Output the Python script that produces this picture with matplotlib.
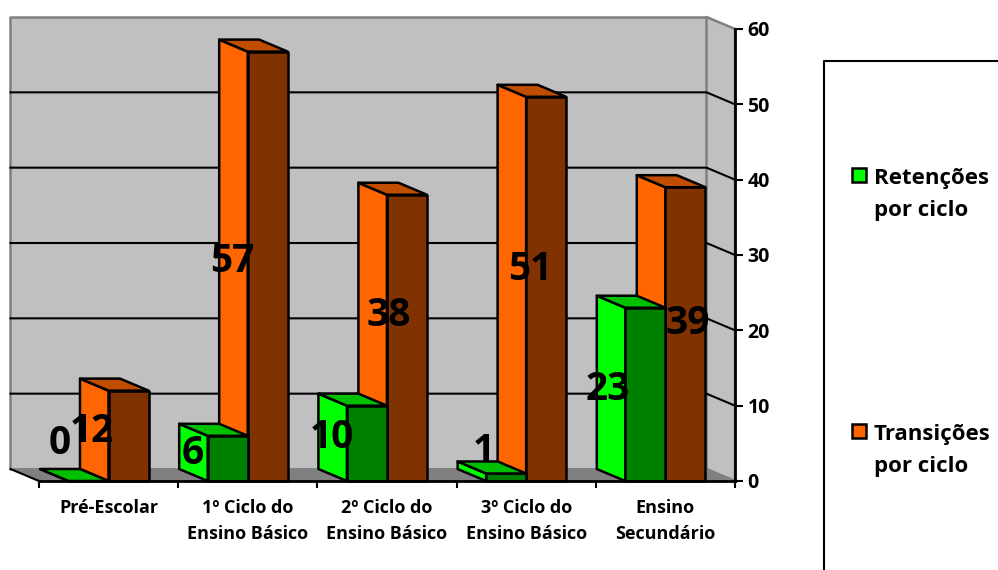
import matplotlib
matplotlib.use("Agg")
import matplotlib.pyplot as plt
from matplotlib.patches import Polygon, Rectangle
from matplotlib.lines import Line2D

categories = ["Pré-Escolar", "1º Ciclo do\nEnsino Básico", "2º Ciclo do\nEnsino Básico",
              "3º Ciclo do\nEnsino Básico", "Ensino\nSecundário"]
retencoes = [0, 6, 10, 1, 23]
transicoes = [12, 57, 38, 51, 39]
y_ticks = [0, 10, 20, 30, 40, 50, 60]
legend_names = ["Retenções\npor ciclo", "Transições\npor ciclo"]

W, H = 998, 570
LEFT, RIGHT, BOTTOM, TOP = 39, 735, 481, 29   # front plane in pixels

# colours: side, front, top
GREEN = ("#00FF00", "#008000", "#00C000")
ORANGE = ("#FF6600", "#803300", "#C04D00")

plt.rcParams["font.family"] = ["Open Sans", "DejaVu Sans"]
plt.rcParams["font.weight"] = "bold"

fig = plt.figure(figsize=(W / 100, H / 100), dpi=100)
ax = fig.add_axes([LEFT / W, 1 - BOTTOM / H, (RIGHT - LEFT) / W, (BOTTOM - TOP) / H])
ax.set_xlim(0, len(categories))
ax.set_ylim(0, 60)
ax.patch.set_visible(False)

# depth of the fake 3d view, in data units
px_x = len(categories) / (RIGHT - LEFT)
px_y = 60 / (BOTTOM - TOP)
dx = 28.5 * px_x
dy = 12 * px_y
bar_w = 40 * px_x
pad = 29.5 * px_x


def poly(pts, fc, ec="black", lw=1.8, z=2):
    ax.add_patch(Polygon(pts, closed=True, facecolor=fc, edgecolor=ec, linewidth=lw,
                         joinstyle="round", clip_on=False, zorder=z))


def bar3d(x0, val, colors, z):
    x1 = x0 + bar_w
    poly([(x0 - dx, dy), (x0, 0), (x0, val), (x0 - dx, val + dy)], colors[0], z=z)
    poly([(x0, 0), (x1, 0), (x1, val), (x0, val)], colors[1], z=z)
    poly([(x0, val), (x1, val), (x1 - dx, val + dy), (x0 - dx, val + dy)], colors[2], z=z)


n = len(categories)
# walls and floor
poly([(-dx, dy), (n - dx, dy), (n - dx, 60 + dy), (-dx, 60 + dy)], "#C0C0C0", ec="#808080", lw=1.8, z=1)
poly([(n - dx, dy), (n, 0), (n, 60), (n - dx, 60 + dy)], "#C0C0C0", ec="#808080", lw=1.8, z=1)
poly([(-dx, dy), (n - dx, dy), (n, 0), (0, 0)], "#808080", ec="#808080", lw=1, z=1.2)
ax.plot([-dx, 0], [dy, 0], color="black", lw=1.5, clip_on=False, zorder=1.3)

# gridlines run along the back wall and down the side wall
for t in y_ticks[1:-1]:
    ax.plot([-dx, n - dx, n], [t + dy, t + dy, t], color="black", lw=1.5,
            clip_on=False, zorder=1.5, solid_joinstyle="miter")

for i in range(n):
    start = i + pad
    bar3d(start + bar_w, transicoes[i], ORANGE, 3)
    bar3d(start, retencoes[i], GREEN, 4)

# data labels, nudged by hand in pixels like in the original
ret_off = [(-9, 38), (-15, 28), (-15, 44), (-2, 30), (-18, 91)]
tra_off = [(-17, 50), (-15, 220), (2, 166), (4, 212), (22, 158)]
for i in range(n):
    ax.annotate(str(retencoes[i]), (i + pad, 0), xytext=(ret_off[i][0] * 0.72, ret_off[i][1] * 0.72),
                textcoords="offset points", ha="center", va="center", fontsize=28, zorder=6)
    ax.annotate(str(transicoes[i]), (i + pad + bar_w, 0), xytext=(tra_off[i][0] * 0.72, tra_off[i][1] * 0.72),
                textcoords="offset points", ha="center", va="center", fontsize=28, zorder=6)

# axes
ax.yaxis.tick_right()
ax.set_yticks(y_ticks)
ax.tick_params(axis="y", length=6, width=1.5, pad=3, labelsize=14)
ax.set_xticks(range(n + 1))
ax.set_xticklabels([])
ax.set_xticks([i + 0.5 for i in range(n)], minor=True)
ax.set_xticklabels(categories, minor=True, fontsize=13, linespacing=1.58)
ax.tick_params(axis="x", which="major", length=5, width=1.5)
ax.tick_params(axis="x", which="minor", length=0, pad=13)
for s in ["top", "left"]:
    ax.spines[s].set_visible(False)
for s in ["bottom", "right"]:
    ax.spines[s].set_linewidth(2)
    ax.spines[s].set_zorder(5)

# legend box runs off the picture on the right and bottom
fig.add_artist(Line2D([824 / W, 824 / W, 1], [0, 1 - 61 / H, 1 - 61 / H], color="black", lw=1.5))
for name, col, ypx in zip(legend_names, [GREEN, ORANGE], [168, 424]):
    fig.add_artist(Rectangle((852 / W, 1 - (ypx + 14) / H), 14 / W, 14 / H, facecolor=col[0],
                             edgecolor="black", lw=1.8, transform=fig.transFigure))
    fig.text(874 / W, 1 - ypx / H, name, ha="left", va="top", fontsize=16, linespacing=1.66)

fig.savefig("out.png", dpi=100)
